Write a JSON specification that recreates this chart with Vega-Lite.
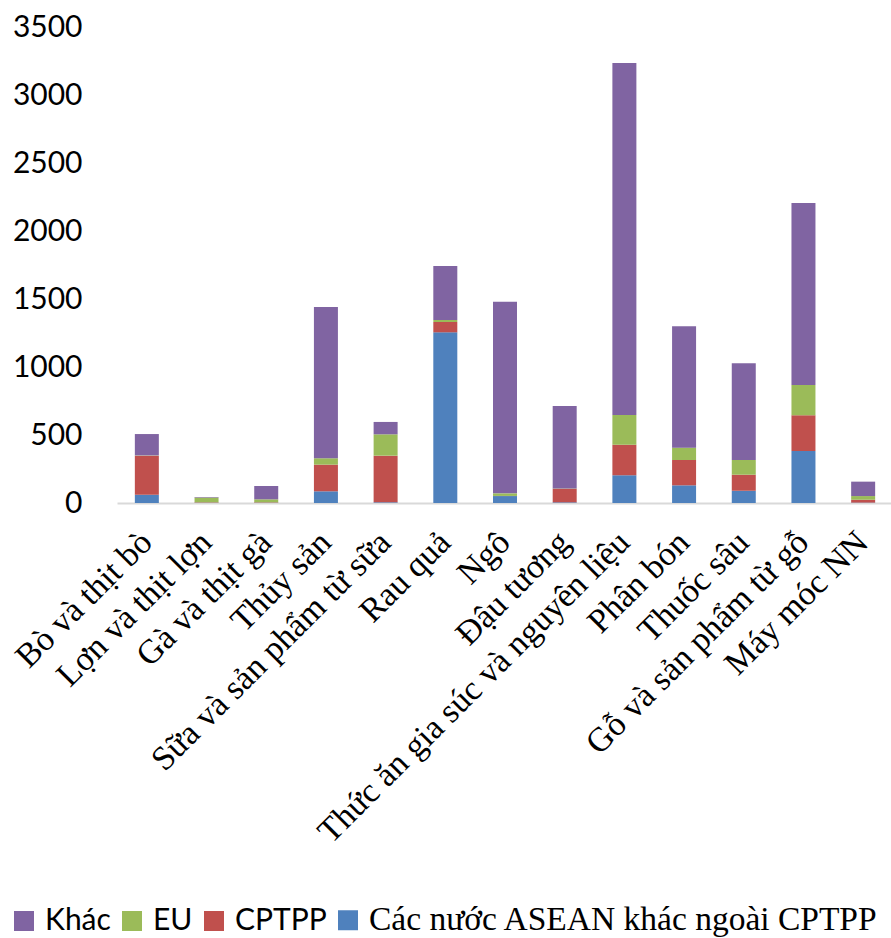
{
  "$schema": "https://vega.github.io/schema/vega-lite/v6.json",
  "autosize": "none",
  "width": 776,
  "height": 476,
  "padding": {"left": 117, "top": 27, "right": 0, "bottom": 435},
  "background": "white",
  "config": {"view": {"stroke": null}},
  "data": {
    "values": [
      {"cat": "Bò và thịt bò", "series": "Các nước ASEAN khác ngoài CPTPP", "value": 61},
      {"cat": "Bò và thịt bò", "series": "CPTPP", "value": 287},
      {"cat": "Bò và thịt bò", "series": "EU", "value": 2},
      {"cat": "Bò và thịt bò", "series": "Khác", "value": 157},
      {"cat": "Lợn và thịt lợn", "series": "Các nước ASEAN khác ngoài CPTPP", "value": 2},
      {"cat": "Lợn và thịt lợn", "series": "CPTPP", "value": 3},
      {"cat": "Lợn và thịt lợn", "series": "EU", "value": 35},
      {"cat": "Lợn và thịt lợn", "series": "Khác", "value": 4},
      {"cat": "Gà và thịt gà", "series": "Các nước ASEAN khác ngoài CPTPP", "value": 2},
      {"cat": "Gà và thịt gà", "series": "CPTPP", "value": 3},
      {"cat": "Gà và thịt gà", "series": "EU", "value": 22},
      {"cat": "Gà và thịt gà", "series": "Khác", "value": 98},
      {"cat": "Thủy sản", "series": "Các nước ASEAN khác ngoài CPTPP", "value": 86},
      {"cat": "Thủy sản", "series": "CPTPP", "value": 196},
      {"cat": "Thủy sản", "series": "EU", "value": 47},
      {"cat": "Thủy sản", "series": "Khác", "value": 1112},
      {"cat": "Sữa và sản phẩm từ sữa", "series": "Các nước ASEAN khác ngoài CPTPP", "value": 5},
      {"cat": "Sữa và sản phẩm từ sữa", "series": "CPTPP", "value": 343},
      {"cat": "Sữa và sản phẩm từ sữa", "series": "EU", "value": 157},
      {"cat": "Sữa và sản phẩm từ sữa", "series": "Khác", "value": 91},
      {"cat": "Rau quả", "series": "Các nước ASEAN khác ngoài CPTPP", "value": 1255},
      {"cat": "Rau quả", "series": "CPTPP", "value": 76},
      {"cat": "Rau quả", "series": "EU", "value": 15},
      {"cat": "Rau quả", "series": "Khác", "value": 397},
      {"cat": "Ngô", "series": "Các nước ASEAN khác ngoài CPTPP", "value": 51},
      {"cat": "Ngô", "series": "CPTPP", "value": 1},
      {"cat": "Ngô", "series": "EU", "value": 19},
      {"cat": "Ngô", "series": "Khác", "value": 1409},
      {"cat": "Đậu tương", "series": "Các nước ASEAN khác ngoài CPTPP", "value": 5},
      {"cat": "Đậu tương", "series": "CPTPP", "value": 100},
      {"cat": "Đậu tương", "series": "EU", "value": 2},
      {"cat": "Đậu tương", "series": "Khác", "value": 606},
      {"cat": "Thức ăn gia súc và nguyên liệu", "series": "Các nước ASEAN khác ngoài CPTPP", "value": 204},
      {"cat": "Thức ăn gia súc và nguyên liệu", "series": "CPTPP", "value": 225},
      {"cat": "Thức ăn gia súc và nguyên liệu", "series": "EU", "value": 218},
      {"cat": "Thức ăn gia súc và nguyên liệu", "series": "Khác", "value": 2588},
      {"cat": "Phân bón", "series": "Các nước ASEAN khác ngoài CPTPP", "value": 130},
      {"cat": "Phân bón", "series": "CPTPP", "value": 186},
      {"cat": "Phân bón", "series": "EU", "value": 91},
      {"cat": "Phân bón", "series": "Khác", "value": 892},
      {"cat": "Thuốc sâu", "series": "Các nước ASEAN khác ngoài CPTPP", "value": 90},
      {"cat": "Thuốc sâu", "series": "CPTPP", "value": 118},
      {"cat": "Thuốc sâu", "series": "EU", "value": 108},
      {"cat": "Thuốc sâu", "series": "Khác", "value": 711},
      {"cat": "Gỗ và sản phẩm từ gỗ", "series": "Các nước ASEAN khác ngoài CPTPP", "value": 382},
      {"cat": "Gỗ và sản phẩm từ gỗ", "series": "CPTPP", "value": 263},
      {"cat": "Gỗ và sản phẩm từ gỗ", "series": "EU", "value": 223},
      {"cat": "Gỗ và sản phẩm từ gỗ", "series": "Khác", "value": 1338},
      {"cat": "Máy móc NN", "series": "Các nước ASEAN khác ngoài CPTPP", "value": 3},
      {"cat": "Máy móc NN", "series": "CPTPP", "value": 21},
      {"cat": "Máy móc NN", "series": "EU", "value": 27},
      {"cat": "Máy móc NN", "series": "Khác", "value": 106}
    ]
  },
  "transform": [
    {"calculate": "indexof(['Các nước ASEAN khác ngoài CPTPP', 'CPTPP', 'EU', 'Khác'], datum.series)", "as": "stackOrder"}
  ],
  "mark": {"type": "bar", "width": 24},
  "encoding": {
    "x": {
      "field": "cat",
      "type": "nominal",
      "sort": null,
      "title": null,
      "scale": {"paddingInner": 0.6, "paddingOuter": 0.3},
      "axis": {
        "labelAngle": -45,
        "labelAlign": "right",
        "labelBaseline": "middle",
        "labelFont": "Liberation Serif",
        "labelFontSize": 34,
        "labelColor": "black",
        "labelPadding": 34,
        "labelLimit": 700,
        "ticks": false,
        "domainColor": "#D9D9D9",
        "domainWidth": 2
      }
    },
    "y": {
      "field": "value",
      "type": "quantitative",
      "aggregate": "sum",
      "stack": "zero",
      "title": null,
      "scale": {"domain": [0, 3500]},
      "axis": {
        "values": [0, 500, 1000, 1500, 2000, 2500, 3000, 3500],
        "format": "d",
        "grid": false,
        "domain": false,
        "ticks": false,
        "labelFont": "Lato",
        "labelFontSize": 30,
        "labelColor": "black",
        "labelPadding": 35
      }
    },
    "order": {"field": "stackOrder", "type": "quantitative", "sort": "ascending"},
    "color": {
      "field": "series",
      "type": "nominal",
      "scale": {
        "domain": ["Khác", "EU", "CPTPP", "Các nước ASEAN khác ngoài CPTPP"],
        "range": ["#8064A2", "#9BBB59", "#C0504D", "#4F81BD"]
      },
      "legend": {
        "title": null,
        "orient": "none",
        "direction": "horizontal",
        "legendX": -108,
        "legendY": 878,
        "symbolType": "square",
        "symbolSize": 400,
        "symbolStrokeWidth": 0,
        "labelFont": "Lato",
        "labelFontSize": 30,
        "labelColor": "black",
        "labelOffset": 6,
        "columnPadding": 6,
        "labelLimit": 800,
        "encode": {
          "labels": {
            "update": {
              "font": {"signal": "datum.label == 'Các nước ASEAN khác ngoài CPTPP' ? 'Liberation Serif' : 'Lato'"},
              "fontSize": {"signal": "datum.label == 'Các nước ASEAN khác ngoài CPTPP' ? 33.5 : 30"}
            }
          }
        }
      }
    }
  }
}
